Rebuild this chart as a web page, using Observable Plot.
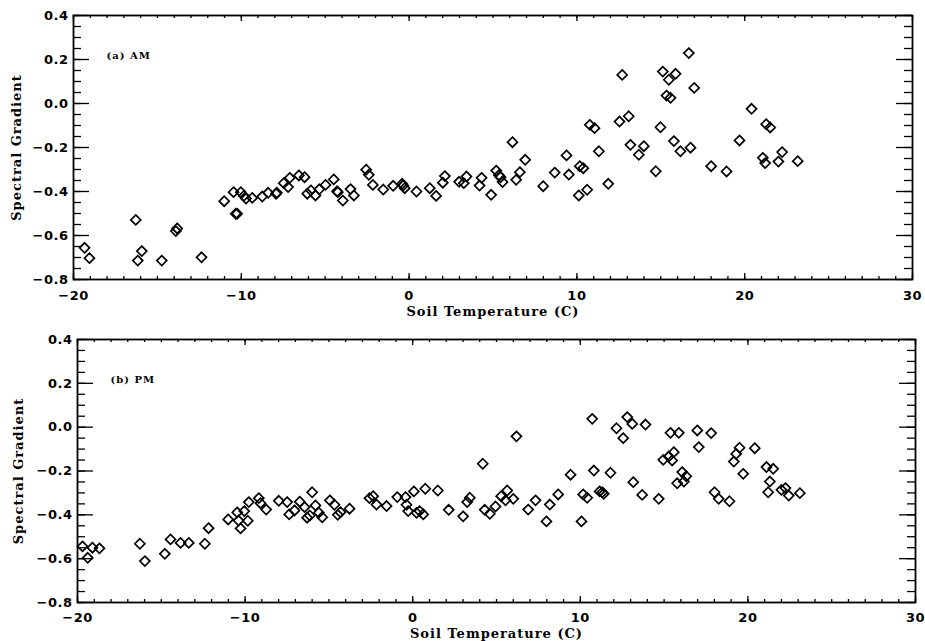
<!DOCTYPE html>
<html><head><meta charset="utf-8">
<script src="https://cdn.jsdelivr.net/npm/d3@7"></script>
<script src="https://cdn.jsdelivr.net/npm/@observablehq/plot@0.6"></script>
<style>
body{margin:0;background:#fff}
svg{display:block}
</style>
</head><body><div id="c"></div>
<script>
// (a) AM
const amTemp = [-19.34,-19.05,-16.29,-16.17,-15.93,-14.74,-13.90,-13.82,-12.37,-11.02,-10.46,-10.33,-10.25,-10.03,-9.85,-9.72,-9.35,-8.75,-8.40,-7.93,-7.88,-7.47,-7.21,-7.11,-6.57,-6.23,-6.07,-5.85,-5.58,-5.35,-4.98,-4.49,-4.29,-4.25,-3.95,-3.49,-3.29,-2.56,-2.40,-2.16,-1.54,-0.95,-0.41,-0.35,-0.26,0.44,1.23,1.61,2.01,2.13,2.98,3.26,3.42,4.20,4.32,4.89,5.19,5.35,5.45,5.57,6.16,6.38,6.60,6.92,7.99,8.68,9.38,9.52,10.11,10.17,10.38,10.61,10.77,11.05,11.31,11.87,12.54,12.70,13.09,13.19,13.69,13.99,14.70,14.98,15.12,15.34,15.48,15.58,15.78,15.88,16.17,16.67,16.77,16.99,18.00,18.92,19.69,20.41,21.08,21.22,21.28,21.52,22.01,22.23,23.16];
const amGrad = [-0.656,-0.703,-0.529,-0.714,-0.671,-0.714,-0.580,-0.568,-0.699,-0.444,-0.403,-0.501,-0.501,-0.403,-0.420,-0.432,-0.429,-0.423,-0.406,-0.410,-0.406,-0.362,-0.380,-0.338,-0.327,-0.335,-0.410,-0.395,-0.418,-0.390,-0.370,-0.345,-0.399,-0.403,-0.441,-0.389,-0.418,-0.301,-0.324,-0.370,-0.391,-0.374,-0.365,-0.373,-0.385,-0.400,-0.385,-0.420,-0.360,-0.330,-0.356,-0.362,-0.332,-0.373,-0.338,-0.415,-0.305,-0.326,-0.335,-0.357,-0.176,-0.347,-0.312,-0.256,-0.376,-0.314,-0.236,-0.323,-0.418,-0.285,-0.294,-0.392,-0.097,-0.112,-0.217,-0.365,-0.082,0.130,-0.058,-0.188,-0.233,-0.194,-0.308,-0.108,0.145,0.036,0.108,0.026,-0.171,0.135,-0.217,0.229,-0.201,0.071,-0.285,-0.309,-0.168,-0.024,-0.247,-0.271,-0.094,-0.109,-0.264,-0.221,-0.262];
// (b) PM
const pmTemp = [-19.70,-19.39,-19.11,-18.69,-16.28,-15.98,-14.79,-14.45,-13.85,-13.36,-12.40,-12.18,-11.01,-10.47,-10.39,-10.27,-10.05,-9.84,-9.78,-9.18,-9.08,-8.74,-7.99,-7.49,-7.37,-7.05,-6.74,-6.45,-6.30,-6.14,-6.00,-5.80,-5.60,-5.40,-4.94,-4.67,-4.47,-4.31,-3.77,-2.58,-2.36,-2.16,-1.56,-0.92,-0.43,-0.37,-0.27,0.07,0.23,0.41,0.63,0.75,1.50,2.15,3.01,3.25,3.41,4.18,4.30,4.60,4.94,5.28,5.54,5.64,6.00,6.19,6.89,7.33,7.98,8.18,8.68,9.42,10.07,10.17,10.41,10.71,10.81,11.15,11.31,11.40,11.80,12.16,12.56,12.80,13.10,13.16,13.69,13.89,14.68,14.95,15.28,15.38,15.48,15.58,15.78,15.88,16.08,16.18,16.32,16.98,17.07,17.81,18.01,18.26,18.90,19.16,19.30,19.50,19.72,20.41,21.11,21.21,21.31,21.51,22.00,22.24,22.44,23.10];
const pmGrad = [-0.544,-0.596,-0.550,-0.553,-0.532,-0.611,-0.578,-0.512,-0.528,-0.528,-0.532,-0.461,-0.421,-0.389,-0.426,-0.462,-0.383,-0.427,-0.342,-0.324,-0.347,-0.376,-0.336,-0.342,-0.398,-0.380,-0.340,-0.365,-0.413,-0.403,-0.297,-0.357,-0.390,-0.411,-0.334,-0.354,-0.400,-0.388,-0.372,-0.324,-0.315,-0.353,-0.360,-0.319,-0.319,-0.354,-0.383,-0.293,-0.391,-0.383,-0.398,-0.281,-0.289,-0.377,-0.407,-0.342,-0.322,-0.167,-0.377,-0.395,-0.362,-0.315,-0.334,-0.289,-0.327,-0.042,-0.376,-0.334,-0.430,-0.353,-0.307,-0.217,-0.430,-0.307,-0.322,0.038,-0.198,-0.293,-0.297,-0.304,-0.208,-0.005,-0.050,0.046,0.015,-0.251,-0.309,0.012,-0.327,-0.149,-0.134,-0.026,-0.152,-0.114,-0.256,-0.026,-0.205,-0.248,-0.224,-0.015,-0.091,-0.027,-0.297,-0.327,-0.338,-0.157,-0.122,-0.094,-0.213,-0.096,-0.182,-0.297,-0.248,-0.190,-0.286,-0.278,-0.312,-0.301];

const xTicks = [-20, -10, 0, 10, 20, 30];
const yTicks = [-0.8, -0.6, -0.4, -0.2, 0.0, 0.2, 0.4];
const xMinor = [-20,-19,-18,-17,-16,-15,-14,-13,-12,-11,-10,-9,-8,-7,-6,-5,-4,-3,-2,-1,0,1,2,3,4,5,6,7,8,9,10,11,12,13,14,15,16,17,18,19,20,21,22,23,24,25,26,27,28,29,30];
const yMinor = [-0.8,-0.75,-0.7,-0.65,-0.6,-0.55,-0.5,-0.45,-0.4,-0.35,-0.3,-0.25,-0.2,-0.15,-0.1,-0.05,0,0.05,0.1,0.15,0.2,0.25,0.3,0.35,0.4];
const xTitle = "Soil Temperature (C)";
const yTitle = "Spectral Gradient";
const tags = ["(a) AM", "(b) PM"];

const TITLE_FONT = "DejaVu Serif";
const TICK_FONT = "DejaVu Sans";
const fmtX = d3.format("d");
const fmtY = d3.format(".1f");

function panel(temp, grad, tag, o) {
  const W = 925;
  const pw = W - o.ml - o.mr, ph = o.h - o.mt - o.mb;
  const data = temp.map((t, i) => ({t, g: grad[i]}));
  const tk = {stroke: "black", strokeWidth: 1.3};
  const tl = {fontFamily: TICK_FONT, fontWeight: "bold", fontSize: 13, fill: "black"};
  const svg = Plot.plot({
    width: W, height: o.h,
    marginTop: o.mt, marginBottom: o.mb, marginLeft: o.ml, marginRight: o.mr,
    x: {domain: [-20, 30], axis: null},
    y: {domain: [-0.8, 0.4], axis: null},
    style: {background: "white", color: "black"},
    marks: [
      Plot.tickY(yMinor, {y: d => d, insetRight: pw - 8, ...tk}),
      Plot.tickY(yTicks, {y: d => d, insetRight: pw - 16, ...tk}),
      Plot.tickY(yMinor, {y: d => d, insetLeft: pw - 8, ...tk}),
      Plot.tickY(yTicks, {y: d => d, insetLeft: pw - 16, ...tk}),
      Plot.tickX(xMinor, {x: d => d, insetTop: ph - 3, ...tk}),
      Plot.tickX(xTicks, {x: d => d, insetTop: ph - 6, ...tk}),
      Plot.tickX(xMinor, {x: d => d, insetBottom: ph - 3, ...tk}),
      Plot.tickX(xTicks, {x: d => d, insetBottom: ph - 6, ...tk}),
      Plot.frame({stroke: "black", strokeWidth: 1.8}),
      Plot.text(xTicks, {x: d => d, text: d => fmtX(d), frameAnchor: "bottom", lineAnchor: "middle",
        textAnchor: "middle", dy: o.xLabDy, ...tl}),
      Plot.text(yTicks, {y: d => d, text: d => fmtY(d), frameAnchor: "left", lineAnchor: "middle",
        textAnchor: "end", dx: -5, ...tl}),
      Plot.text([xTitle], {text: d => d, frameAnchor: "bottom", lineAnchor: "middle", textAnchor: "middle",
        dy: o.titleDy, fontFamily: TITLE_FONT, fontWeight: "bold", fontSize: 13}),
      Plot.text([yTitle], {text: d => d, frameAnchor: "left", textAnchor: "middle", lineAnchor: "middle",
        dx: o.ylabDx, rotate: -90, fontFamily: TITLE_FONT, fontWeight: "bold", fontSize: 13}),
      Plot.text([tag], {text: d => d, frameAnchor: "top-left", textAnchor: "start", lineAnchor: "middle",
        dx: 33, dy: 40, fontFamily: TITLE_FONT, fontWeight: "bold", fontSize: 10}),
      Plot.dot(data, {x: "t", y: "g", symbol: "diamond2", r: 4.5, fill: "none",
        stroke: "black", strokeWidth: 1.7})
    ]
  });
  const s = d3.select(svg);
  s.selectAll('g[aria-label="text"] text').attr("letter-spacing", "1");
  s.selectAll(`g[font-family="${TICK_FONT}"] text`).attr("letter-spacing", "0.5");
  return svg;
}

const c = document.getElementById("c");
c.appendChild(panel(amTemp, amGrad, tags[0], {h: 320, mt: 15, mb: 41, ml: 73, mr: 13, xLabDy: 16, titleDy: 32, ylabDx: -57}));
c.appendChild(panel(pmTemp, pmGrad, tags[1], {h: 321, mt: 19, mb: 39, ml: 77, mr: 10, xLabDy: 15, titleDy: 31, ylabDx: -59}));
</script>
</body></html>
